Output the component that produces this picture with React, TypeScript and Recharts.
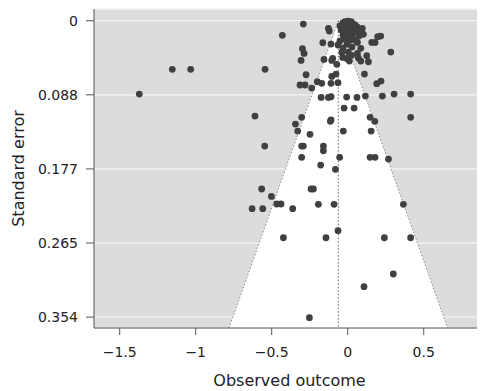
import React from 'react';
import {
  ScatterChart,
  Scatter,
  XAxis,
  YAxis,
  CartesianGrid,
  ReferenceArea,
  ReferenceLine,
  Label,
} from 'recharts';

// Observed outcome (x) and standard error (y) of each study
const outcomes = [
  -1.371, -1.154, -1.033, -0.544, -0.430, -0.292, -0.610, -0.546, -0.566, -0.502,
  -0.629, -0.559, -0.467, -0.439, -0.362, -0.423, -0.143, -0.252, 0.107, 0.300,
  0.241, 0.414, -0.064, 0.366, -0.090, -0.193, -0.241, -0.226, -0.178, -0.081,
  -0.303, -0.053, 0.147, 0.180, 0.268, -0.303, -0.292, -0.160, -0.160, -0.248,
  -0.329, -0.344, -0.303, -0.110, -0.114, -0.029, 0.154, 0.147, 0.178, 0.414,
  -0.024, 0.042, -0.175, -0.127, -0.110, -0.007, 0.061, 0.116, 0.228, 0.305,
  0.414, 0.191, 0.219, -0.314, -0.281, -0.237, -0.200, -0.171, -0.110, -0.064,
  -0.274, -0.105, -0.077, 0.110, -0.307, -0.156, -0.099, -0.105, -0.072, 0.136,
  0.125, 0.283, -0.298, -0.287, -0.164, -0.110, -0.127, -0.121, 0.096, 0.103,
  0.158, 0.180, 0.197, 0.217, 0.064, 0.011, -0.007, 0.086, 0.064, 0.086,
  -0.039, -0.033,
  -0.018, 0.002, 0.022, -0.031, -0.005, 0.028, 0.048, -0.051, -0.024, 0.009,
  0.035, 0.061, -0.044, -0.011, 0.015, 0.048, -0.031, 0.002, 0.028, -0.018,
  0.015, -0.051, 0.048, -0.005, -0.064, -0.031, 0.028, 0.074, 0.081,
  0.004, 0.026, 0.070,
];

const standardErrors = [
  0.0876, 0.0581, 0.0581, 0.0581, 0.0175, 0.0040, 0.1139, 0.1497, 0.2010, 0.2098,
  0.2245, 0.2245, 0.2189, 0.2189, 0.2245, 0.2592, 0.2592, 0.3547, 0.3177, 0.3025,
  0.2592, 0.2592, 0.2508, 0.2193, 0.2193, 0.2193, 0.2010, 0.2010, 0.1724, 0.1775,
  0.1632, 0.1632, 0.1632, 0.1632, 0.1652, 0.1497, 0.1497, 0.1497, 0.1553, 0.1357,
  0.1318, 0.1234, 0.1154, 0.1186, 0.1202, 0.1318, 0.1318, 0.1154, 0.1202, 0.1154,
  0.1043, 0.1043, 0.0916, 0.0916, 0.0908, 0.0912, 0.0916, 0.0900, 0.0900, 0.0876,
  0.0876, 0.0752, 0.0721, 0.0768, 0.0768, 0.0804, 0.0729, 0.0748, 0.0748, 0.0740,
  0.0645, 0.0665, 0.0637, 0.0637, 0.0474, 0.0462, 0.0450, 0.0474, 0.0521, 0.0490,
  0.0418, 0.0374, 0.0334, 0.0390, 0.0263, 0.0279, 0.0092, 0.0123, 0.0092, 0.0163,
  0.0259, 0.0259, 0.0191, 0.0183, 0.0259, 0.0482, 0.0450, 0.0482, 0.0390, 0.0330,
  0.0378, 0.0438,
  0.0010, 0.0005, 0.0010, 0.0027, 0.0027, 0.0027, 0.0051, 0.0063, 0.0075, 0.0075,
  0.0087, 0.0075, 0.0111, 0.0123, 0.0123, 0.0135, 0.0171, 0.0171, 0.0183, 0.0219,
  0.0231, 0.0242, 0.0231, 0.0278, 0.0290, 0.0326, 0.0314, 0.0183, 0.0111,
  0.0374, 0.0413, 0.0445,
];

const xTicks = [-1.5, -1, -0.5, 0, 0.5];
const xTickLabels = ['\u22121.5', '\u22121', '\u22120.5', '0', '0.5'];
const yTicks = [0, 0.0885, 0.177, 0.2655, 0.354];
const yTickLabels = ['0', '0.088', '0.177', '0.265', '0.354'];

const pooledEstimate = -0.062;
const zCrit = 1.96;
const seBottom = 0.367;
const xDomain = [-1.669, 0.903];
const yDomain = [-0.014, 0.367];

const studies = outcomes.map((x, i) => ({ x, se: standardErrors[i] }));

const FONT = 'DejaVu Sans';

const FunnelShape = (props: any) => {
  const { x, y, width, height } = props;
  if (x == null || y == null) return null;
  return (
    <polygon
      points={`${x},${y + height} ${x + width / 2},${y} ${x + width},${y + height}`}
      fill="#ffffff"
      stroke="none"
    />
  );
};

const Dot = (p: any) => <circle cx={p.cx} cy={p.cy} r={3.4} fill="#404040" />;

export default function App() {
  const lo = pooledEstimate - zCrit * seBottom;
  const hi = pooledEstimate + zCrit * seBottom;
  return (
    <div style={{ margin: '-8px 0 0 -8px', width: 485, height: 391 }}>
      <ScatterChart
        width={485}
        height={391}
        margin={{ top: 9, right: 0, bottom: 0, left: 0 }}
      >
        <CartesianGrid
          vertical={false}
          horizontal={true}
          fill="#dcdcdd"
          stroke="#f3f3f3"
          strokeWidth={1.3}
        />
        <ReferenceArea
          x1={lo}
          x2={hi}
          y1={0}
          y2={seBottom}
          shape={FunnelShape}
          ifOverflow="visible"
        />
        <ReferenceLine
          segment={[{ x: lo, y: seBottom }, { x: pooledEstimate, y: 0 }]}
          stroke="#8a8a8a"
          strokeDasharray="1.5 2"
          ifOverflow="visible"
        />
        <ReferenceLine
          segment={[{ x: pooledEstimate, y: 0 }, { x: hi, y: seBottom }]}
          stroke="#8a8a8a"
          strokeDasharray="1.5 2"
          ifOverflow="visible"
        />
        <ReferenceLine
          segment={[{ x: pooledEstimate, y: 0 }, { x: pooledEstimate, y: seBottom }]}
          stroke="#666666"
          strokeDasharray="1.5 2"
          ifOverflow="visible"
        />
        <XAxis
          type="number"
          dataKey="x"
          domain={xDomain}
          ticks={xTicks}
          interval={0}
          allowDataOverflow
          height={63}
          tickSize={7}
          tickMargin={12}
          stroke="#555555"
          tick={{ fill: '#222222', fontSize: 14, fontFamily: FONT }}
          tickFormatter={(v: number) => xTickLabels[xTicks.indexOf(v)] ?? String(v)}
        >
          <Label
            content={(props: any) => {
              const vb = props.viewBox || {};
              return (
                <text
                  x={vb.x + vb.width / 2}
                  y={vb.y + 58}
                  textAnchor="middle"
                  fontFamily={FONT}
                  fontSize={16}
                  fill="#222222"
                >
                  Observed outcome
                </text>
              );
            }}
          />
        </XAxis>
        <YAxis
          type="number"
          dataKey="se"
          reversed
          domain={yDomain}
          ticks={yTicks}
          interval={0}
          allowDataOverflow
          width={94}
          tickSize={8}
          tickMargin={8}
          stroke="#555555"
          tick={{ fill: '#222222', fontSize: 14, fontFamily: FONT }}
          tickFormatter={(v: number) => yTickLabels[yTicks.indexOf(v)] ?? String(v)}
        >
          <Label
            content={(props: any) => {
              const vb = props.viewBox || {};
              const cx = vb.x + 18;
              const cy = vb.y + vb.height / 2;
              return (
                <text
                  x={cx}
                  y={cy}
                  transform={`rotate(-90, ${cx}, ${cy})`}
                  textAnchor="middle"
                  dominantBaseline="central"
                  fontFamily={FONT}
                  fontSize={16}
                  fill="#222222"
                >
                  Standard error
                </text>
              );
            }}
          />
        </YAxis>
        <Scatter data={studies} shape={Dot} isAnimationActive={false} />
      </ScatterChart>
    </div>
  );
}
